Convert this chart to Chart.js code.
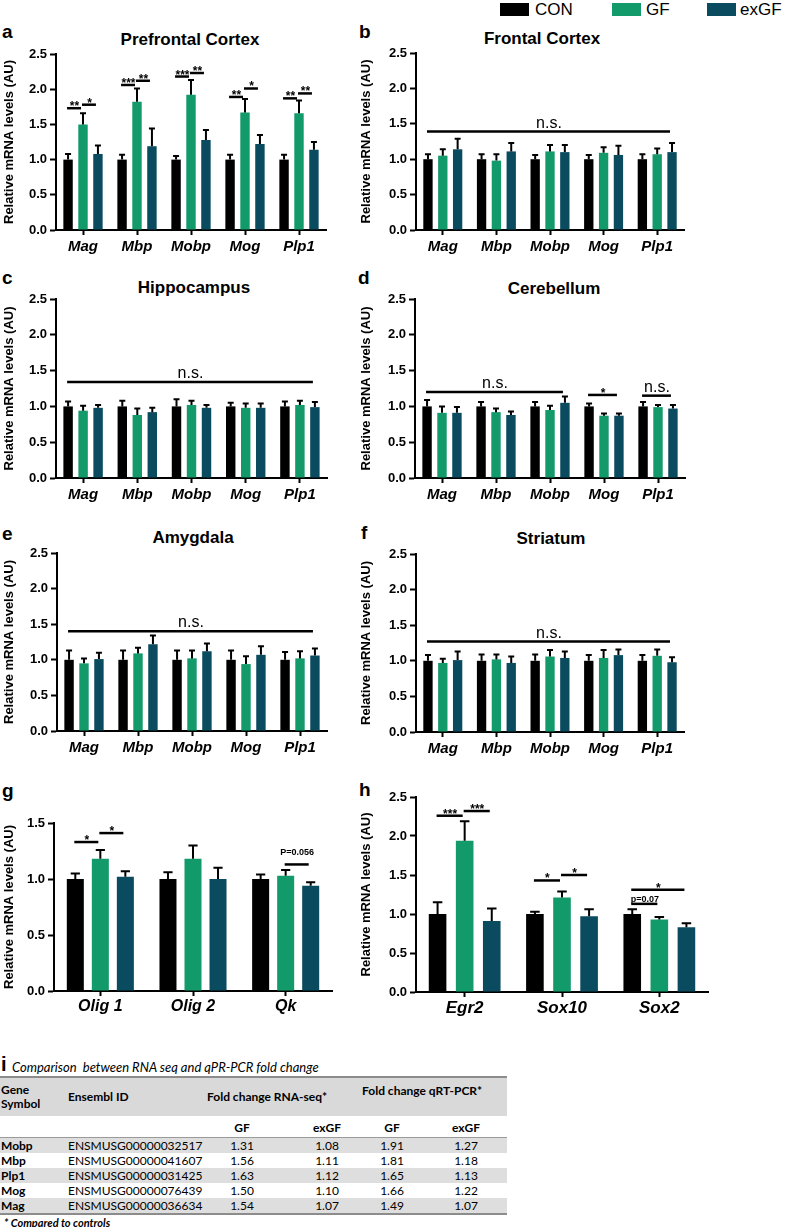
<!DOCTYPE html>
<html>
<head>
<meta charset="utf-8">
<script src="https://cdn.jsdelivr.net/npm/chart.js@4.4.0/dist/chart.umd.min.js"></script>
<style>
body { margin: 0; width: 788px; height: 1227px; position: relative; background: #fff; overflow: hidden;
       font-family: 'Liberation Sans', Arial, sans-serif; color: #000; }
canvas { position: absolute; }
.letter { position: absolute; font-weight: bold; font-size: 19px; line-height: 19px; }
.title { position: absolute; font-weight: bold; font-size: 17px; line-height: 17px; transform: translate(-50%, -50%); white-space: nowrap; }
.lgbox { position: absolute; top: 3px; width: 29px; height: 13px; }
.lgtxt { position: absolute; top: 0px; font-size: 17px; line-height: 19px; }
.tb { position: absolute; font-family: Lato, 'Open Sans', sans-serif; font-size: 12px; line-height: 14px; white-space: nowrap; }
.band { position: absolute; left: 0; width: 507px; }
</style>
</head>
<body>

<div class="lgbox" style="left:500px;background:#000"></div><div class="lgtxt" style="left:535px">CON</div>
<div class="lgbox" style="left:612px;background:#139a6b"></div><div class="lgtxt" style="left:646px">GF</div>
<div class="lgbox" style="left:707px;background:#0a4b5f"></div><div class="lgtxt" style="left:740px">exGF</div>

<div class="letter" style="left:2px;top:22px">a</div>
<div class="letter" style="left:359px;top:22px">b</div>
<div class="letter" style="left:2px;top:268px">c</div>
<div class="letter" style="left:358px;top:268px">d</div>
<div class="letter" style="left:2px;top:524px">e</div>
<div class="letter" style="left:361px;top:523px">f</div>
<div class="letter" style="left:2px;top:781px">g</div>
<div class="letter" style="left:359px;top:780px">h</div>

<div class="title" style="left:190px;top:39px">Prefrontal Cortex</div>
<div class="title" style="left:542px;top:38px">Frontal Cortex</div>
<div class="title" style="left:194px;top:287px">Hippocampus</div>
<div class="title" style="left:554px;top:288px">Cerebellum</div>
<div class="title" style="left:193px;top:537px">Amygdala</div>
<div class="title" style="left:551px;top:538px">Striatum</div>

<div id="table"></div>

<script>
// ---- data ----
var genes = ['Mag', 'Mbp', 'Mobp', 'Mog', 'Plp1'];
var groups = ['CON', 'GF', 'exGF'];
var glialGenes = ['Olig 1', 'Olig 2', 'Qk'];
var tfGenes = ['Egr2', 'Sox10', 'Sox2'];
var yTicks5 = [0, 0.5, 1.0, 1.5, 2.0, 2.5];

// a  Prefrontal Cortex
var pfcCON = [1, 1, 1, 1, 1];
var pfcCONErr = [0.08, 0.07, 0.05, 0.07, 0.07];
var pfcGF = [1.50, 1.82, 1.92, 1.67, 1.66];
var pfcGFErr = [0.16, 0.19, 0.21, 0.19, 0.18];
var pfcEx = [1.08, 1.19, 1.28, 1.22, 1.14];
var pfcExErr = [0.12, 0.25, 0.14, 0.13, 0.11];

// b  Frontal Cortex
var fcCON = [1, 1, 1, 1, 1];
var fcCONErr = [0.07, 0.07, 0.06, 0.06, 0.07];
var fcGF = [1.05, 0.98, 1.11, 1.09, 1.07];
var fcGFErr = [0.09, 0.09, 0.09, 0.08, 0.08];
var fcEx = [1.14, 1.11, 1.10, 1.06, 1.10];
var fcExErr = [0.15, 0.12, 0.10, 0.13, 0.13];

// c  Hippocampus
var hipCON = [1, 1, 1, 1, 1];
var hipCONErr = [0.07, 0.08, 0.10, 0.05, 0.07];
var hipGF = [0.94, 0.88, 1.02, 0.98, 1.02];
var hipGFErr = [0.07, 0.09, 0.06, 0.06, 0.06];
var hipEx = [0.98, 0.92, 0.98, 0.98, 0.99];
var hipExErr = [0.04, 0.06, 0.04, 0.06, 0.07];

// d  Cerebellum
var cbCON = [1, 1, 1, 1, 1];
var cbCONErr = [0.09, 0.06, 0.06, 0.04, 0.06];
var cbGF = [0.91, 0.92, 0.95, 0.87, 0.99];
var cbGFErr = [0.09, 0.05, 0.06, 0.03, 0.03];
var cbEx = [0.91, 0.88, 1.05, 0.87, 0.97];
var cbExErr = [0.08, 0.05, 0.09, 0.03, 0.05];

// e  Amygdala
var amyCON = [1, 1, 1, 1, 1];
var amyCONErr = [0.13, 0.13, 0.13, 0.13, 0.11];
var amyGF = [0.95, 1.09, 1.02, 0.94, 1.02];
var amyGFErr = [0.07, 0.08, 0.11, 0.11, 0.10];
var amyEx = [1.01, 1.22, 1.12, 1.07, 1.06];
var amyExErr = [0.09, 0.12, 0.11, 0.12, 0.10];

// f  Striatum
var strCON = [1, 1, 1, 1, 1];
var strCONErr = [0.08, 0.09, 0.09, 0.08, 0.08];
var strGF = [0.97, 1.02, 1.06, 1.04, 1.07];
var strGFErr = [0.06, 0.07, 0.09, 0.11, 0.09];
var strEx = [1.01, 0.97, 1.04, 1.08, 0.98];
var strExErr = [0.12, 0.09, 0.09, 0.08, 0.07];

// g  Olig1 / Olig2 / Qk
var glCON = [1, 1, 1];
var glCONErr = [0.05, 0.06, 0.04];
var glGF = [1.18, 1.18, 1.03];
var glGFErr = [0.08, 0.12, 0.05];
var glEx = [1.02, 1.00, 0.94];
var glExErr = [0.05, 0.10, 0.03];

// h  Egr2 / Sox10 / Sox2
var tfCON = [1, 1, 1];
var tfCONErr = [0.15, 0.03, 0.06];
var tfGF = [1.94, 1.21, 0.93];
var tfGFErr = [0.25, 0.08, 0.03];
var tfEx = [0.91, 0.97, 0.83];
var tfExErr = [0.16, 0.09, 0.05];

// significance marks: [category, group, category2, group2, height, text]
var pfcSig = [[0,0,0,1,1.73,'**'], [0,1,0,2,1.78,'*'], [1,0,1,1,2.06,'***'], [1,1,1,2,2.12,'**'],
              [2,0,2,1,2.18,'***'], [2,1,2,2,2.23,'**'], [3,0,3,1,1.89,'**'], [3,1,3,2,2.01,'*'],
              [4,0,4,1,1.87,'**'], [4,1,4,2,1.94,'**']];
var fcSig = [[0,0,4,2,1.39,'n.s.']];
var hipSig = [[0,0,4,2,1.34,'n.s.']];
var cbSig = [[0,0,2,2,1.20,'n.s.'], [3,0,3,2,1.16,'*'], [4,0,4,2,1.15,'n.s.']];
var amySig = [[0,0,4,2,1.40,'n.s.']];
var strSig = [[0,0,4,2,1.27,'n.s.']];
var glSig = [[0,0,0,1,1.33,'*'], [0,1,0,2,1.41,'*'], [2,1,2,2,1.13,'P=0.056']];
var tfSig = [[0,0,0,1,2.26,'***'], [0,1,0,2,2.32,'***'], [1,0,1,1,1.43,'*'], [1,1,1,2,1.50,'*'],
             [2,0,2,2,1.31,'*'], [2,0,2,1,1.13,'p=0.07']];

// i  table
var tblGenes = ['Mobp', 'Mbp', 'Plp1', 'Mog', 'Mag'];
var tblIds = ['ENSMUSG00000032517', 'ENSMUSG00000041607', 'ENSMUSG00000031425', 'ENSMUSG00000076439', 'ENSMUSG00000036634'];
var rnaGF = ['1.31', '1.56', '1.63', '1.50', '1.54'];
var rnaEx = ['1.08', '1.11', '1.12', '1.10', '1.07'];
var qpcrGF = ['1.91', '1.81', '1.65', '1.66', '1.49'];
var qpcrEx = ['1.27', '1.18', '1.13', '1.22', '1.07'];

var COLORS = ['#000000', '#139a6b', '#0a4b5f'];
var FONT = "'Liberation Sans', Arial, sans-serif";
var sigByChart = {};

// error bars on top of each bar
Chart.register({
    id: 'errorBars',
    afterDatasetsDraw: function(chart) {
        var ctx = chart.ctx, ys = chart.scales.y;
        ctx.save();
        ctx.strokeStyle = '#000';
        ctx.lineWidth = 2;
        chart.data.datasets.forEach(function(ds, i) {
            chart.getDatasetMeta(i).data.forEach(function(bar, j) {
                var top = ys.getPixelForValue(ds.data[j] + ds.err[j]);
                var half = Math.max(3, bar.width * 0.27);
                ctx.beginPath();
                ctx.moveTo(bar.x, bar.y);
                ctx.lineTo(bar.x, top);
                ctx.moveTo(bar.x - half, top);
                ctx.lineTo(bar.x + half, top);
                ctx.stroke();
            });
        });
        ctx.restore();
    }
});

// significance lines and labels
Chart.register({
    id: 'sigMarks',
    afterDatasetsDraw: function(chart) {
        var items = sigByChart[chart.canvas.id] || [];
        var ctx = chart.ctx, ys = chart.scales.y;
        ctx.save();
        ctx.strokeStyle = '#000';
        ctx.fillStyle = '#000';
        ctx.lineWidth = 2.5;
        ctx.textAlign = 'center';
        items.forEach(function(it) {
            var b1 = chart.getDatasetMeta(it[1]).data[it[0]];
            var b2 = chart.getDatasetMeta(it[3]).data[it[2]];
            var py = ys.getPixelForValue(it[4]);
            ctx.beginPath();
            ctx.moveTo(b1.x - 1, py);
            ctx.lineTo(b2.x - 2, py);
            ctx.stroke();
            var txt = it[5], cx = (b1.x + b2.x) / 2 - 1;
            if (txt === 'n.s.') {
                ctx.font = '16px ' + FONT;
                ctx.fillText(txt, cx, py - 4);
            } else if (txt.charAt(0) === '*') {
                ctx.font = 'bold 12px ' + FONT;
                ctx.fillText(txt, cx, py + 2);
            } else if (txt.charAt(0) === 'P') {
                ctx.font = 'bold 9px ' + FONT;
                ctx.fillText(txt, cx, py - 9);
            } else {
                ctx.font = 'bold 9px ' + FONT;
                ctx.fillText(txt, cx, py - 2);
            }
        });
        ctx.restore();
    }
});

function makePanel(p) {
    var cv = document.createElement('canvas');
    cv.id = 'chart_' + p.id;
    var top = p.yTop - 16;
    var w = p.axisR - p.left + 6;
    var h = p.yBot + 34 - top;
    cv.width = w;
    cv.height = h;
    cv.style.left = p.left + 'px';
    cv.style.top = top + 'px';
    cv.style.width = w + 'px';
    cv.style.height = h + 'px';
    document.body.appendChild(cv);
    sigByChart[cv.id] = p.sig;

    var sets = [p.con, p.gf, p.ex];
    var errs = [p.conErr, p.gfErr, p.exErr];

    new Chart(cv, {
        type: 'bar',
        data: {
            labels: p.labels,
            datasets: groups.map(function(g, i) {
                return {
                    label: g,
                    data: sets[i],
                    err: errs[i],
                    backgroundColor: COLORS[i],
                    borderWidth: 0,
                    categoryPercentage: p.catPct,
                    barPercentage: p.barPct
                };
            })
        },
        options: {
            responsive: false,
            animation: false,
            layout: { padding: { left: 0, top: 16, right: 6, bottom: 0 } },
            plugins: { legend: { display: false }, tooltip: { enabled: false } },
            scales: {
                x: {
                    offset: true,
                    grid: { display: true, drawOnChartArea: false, offset: false, tickLength: 5,
                            tickWidth: 2, tickColor: '#000', color: '#000' },
                    border: { display: true, color: '#000', width: 2 },
                    ticks: { color: '#000', padding: p.xPad, maxRotation: 0, autoSkip: false,
                             font: { family: FONT, size: p.xFont, weight: 'bold', style: 'italic' } },
                    afterFit: function(s) { s.height = 34; }
                },
                y: {
                    min: 0,
                    max: p.max,
                    afterBuildTicks: function(s) {
                        s.ticks = yTicks5.filter(function(v) { return v <= p.max; })
                                         .map(function(v) { return { value: v }; });
                    },
                    grid: { display: true, drawOnChartArea: false, tickLength: 6, tickWidth: 2,
                            tickColor: '#000', color: '#000' },
                    border: { display: true, color: '#000', width: 2 },
                    ticks: { color: '#000', padding: 3, font: { family: FONT, size: 13, weight: 'bold' },
                             callback: function(v) { return Number(v).toFixed(1); } },
                    title: { display: true, text: 'Relative mRNA levels (AU)', color: '#000',
                             font: { family: FONT, size: 13, weight: 'bold' }, padding: { top: 2, bottom: 0 } },
                    afterFit: function(s) { s.width = p.axisL - p.left; }
                }
            }
        }
    });
}

var small = { catPct: 0.83, barPct: 0.63, xFont: 15, xPad: 3 };

makePanel(Object.assign({ id: 'a', left: 0, axisL: 56, axisR: 326, yTop: 54, yBot: 230, max: 2.5, labels: genes,
    con: pfcCON, conErr: pfcCONErr, gf: pfcGF, gfErr: pfcGFErr, ex: pfcEx, exErr: pfcExErr, sig: pfcSig }, small));
makePanel(Object.assign({ id: 'b', left: 357, axisL: 416, axisR: 684, yTop: 53, yBot: 230, max: 2.5, labels: genes,
    con: fcCON, conErr: fcCONErr, gf: fcGF, gfErr: fcGFErr, ex: fcEx, exErr: fcExErr, sig: fcSig }, small));
makePanel(Object.assign({ id: 'c', left: 0, axisL: 56, axisR: 327, yTop: 299, yBot: 478, max: 2.5, labels: genes,
    con: hipCON, conErr: hipCONErr, gf: hipGF, gfErr: hipGFErr, ex: hipEx, exErr: hipExErr, sig: hipSig }, small));
makePanel(Object.assign({ id: 'd', left: 357, axisL: 415, axisR: 685, yTop: 299, yBot: 478, max: 2.5, labels: genes,
    con: cbCON, conErr: cbCONErr, gf: cbGF, gfErr: cbGFErr, ex: cbEx, exErr: cbExErr, sig: cbSig }, small));
makePanel(Object.assign({ id: 'e', left: 0, axisL: 57, axisR: 327, yTop: 553, yBot: 731, max: 2.5, labels: genes,
    con: amyCON, conErr: amyCONErr, gf: amyGF, gfErr: amyGFErr, ex: amyEx, exErr: amyExErr, sig: amySig }, small));
makePanel(Object.assign({ id: 'f', left: 357, axisL: 416, axisR: 684, yTop: 554, yBot: 732, max: 2.5, labels: genes,
    con: strCON, conErr: strCONErr, gf: strGF, gfErr: strGFErr, ex: strEx, exErr: strExErr, sig: strSig }, small));
makePanel({ id: 'g', left: 0, axisL: 54, axisR: 332, yTop: 823, yBot: 991, max: 1.5, labels: glialGenes,
    con: glCON, conErr: glCONErr, gf: glGF, gfErr: glGFErr, ex: glEx, exErr: glExErr, sig: glSig,
    catPct: 0.81, barPct: 0.68, xFont: 16, xPad: 1 });
makePanel({ id: 'h', left: 357, axisL: 416, axisR: 708, yTop: 797, yBot: 992, max: 2.5, labels: tfGenes,
    con: tfCON, conErr: tfCONErr, gf: tfGF, gfErr: tfGFErr, ex: tfEx, exErr: tfExErr, sig: tfSig,
    catPct: 0.835, barPct: 0.65, xFont: 17, xPad: 1 });

// ---- table (panel i) ----
function put(parent, html, x, y, style) {
    var d = document.createElement('div');
    d.className = 'tb';
    d.innerHTML = html;
    d.style.left = x + 'px';
    d.style.top = y + 'px';
    if (style) d.style.cssText += style;
    parent.appendChild(d);
    return d;
}
function band(parent, y, h, color) {
    var d = document.createElement('div');
    d.className = 'band';
    d.style.top = y + 'px';
    d.style.height = h + 'px';
    d.style.background = color;
    parent.appendChild(d);
}
function centred(parent, txt, cx, y, style) {
    return put(parent, txt, cx - 40, y, 'width:80px;text-align:center;' + (style || ''));
}

var tbl = document.getElementById('table');
var letterI = document.createElement('div');
letterI.className = 'letter';
letterI.style.cssText = 'left:1px;top:1055px;font-size:20px';
letterI.textContent = 'i';
tbl.appendChild(letterI);
put(tbl, 'Comparison &nbsp;between RNA seq and qPR-PCR fold change', 12, 1060, 'font-style:italic;font-size:13px');

var tTop = 1076;
band(tbl, tTop, 2, '#8c8c8c');
band(tbl, tTop + 2, 38, '#d9d9d9');
put(tbl, 'Gene<br>Symbol', 1, tTop + 7, 'font-weight:bold');
put(tbl, 'Ensembl ID', 68, tTop + 14, 'font-weight:bold');
put(tbl, 'Fold change RNA-seq*', 207, tTop + 14, 'font-weight:bold');
put(tbl, 'Fold change qRT-PCR*', 362, tTop + 8, 'font-weight:bold');
var subY = tTop + 45;
centred(tbl, 'GF', 242, subY, 'font-weight:bold');
centred(tbl, 'exGF', 327, subY, 'font-weight:bold');
centred(tbl, 'GF', 392, subY, 'font-weight:bold');
centred(tbl, 'exGF', 466, subY, 'font-weight:bold');
var rowTop = tTop + 62;
band(tbl, rowTop - 1, 1, '#9a9a9a');
tblGenes.forEach(function(g, i) {
    var y = rowTop + i * 15;
    if (i % 2 === 0) band(tbl, y, 15, '#dedede');
    put(tbl, g, 1, y + 1, 'font-weight:bold');
    put(tbl, tblIds[i], 68, y + 1);
    centred(tbl, rnaGF[i], 242, y + 1);
    centred(tbl, rnaEx[i], 327, y + 1);
    centred(tbl, qpcrGF[i], 392, y + 1);
    centred(tbl, qpcrEx[i], 466, y + 1);
});
band(tbl, rowTop + 75, 2, '#8c8c8c');
put(tbl, '* Compared to controls', 4, rowTop + 78, 'font-style:italic;font-weight:bold;font-size:11px');
</script>
</body>
</html>
